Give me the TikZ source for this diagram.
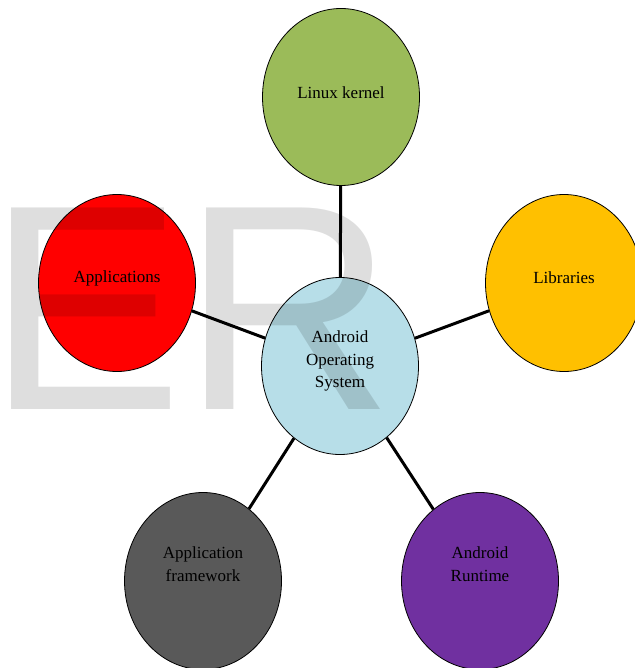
\documentclass[tikz,border=0pt]{standalone}
\usepackage{fontspec}
\setmainfont{Liberation Serif}
\newfontfamily\wmfont{Liberation Sans}
\usetikzlibrary{shapes.geometric}
\definecolor{kgreen}{HTML}{9BBB59}
\definecolor{lorange}{HTML}{FFC000}
\definecolor{ared}{HTML}{FF0000}
\definecolor{cblue}{HTML}{B7DEE8}
\definecolor{fgray}{HTML}{595959}
\definecolor{rpurple}{HTML}{7030A0}
\tikzset{
  bubble/.style={ellipse, draw=black, line width=0.8pt, minimum width=157pt, minimum height=177pt, inner sep=0pt},
  lbl/.style={align=center, inner sep=0pt, font=\fontsize{17}{22.5}\selectfont, text=black},
  link/.style={line width=3pt, black},
}
\begin{document}
\begin{tikzpicture}[x=1pt, y=-1pt]
\useasboundingbox (0,0) rectangle (634,668);
\fill[white] (0,0) rectangle (634,668);
\node[bubble, fill=cblue, label={[lbl, name=osl, yshift=5pt]center:Android\\Operating\\System}] (os) at (340,366) {};
\node[bubble, fill=kgreen, label={[lbl, name=kernell, yshift=4pt]center:Linux kernel}] (kernel) at (341,97) {};
\node[bubble, fill=ared, label={[lbl, name=appsl, yshift=5pt]center:Applications}] (apps) at (117,283) {};
\node[bubble, fill=lorange, label={[lbl, name=libsl, yshift=5pt]center:Libraries}] (libs) at (564,283) {};
\node[bubble, fill=fgray, label={[lbl, name=fwl, yshift=17pt]center:Application\\framework}] (fw) at (203,581) {};
\node[bubble, fill=rpurple, label={[lbl, name=rtl, yshift=17pt]center:Android\\Runtime}] (rt) at (480,581) {};
\draw[link] (kernel) -- (os);
\draw[link] (apps) -- (os);
\draw[link] (libs) -- (os);
\draw[link] (fw) -- (os);
\draw[link] (rt) -- (os);
\node[anchor=base west, inner sep=0pt, text=black, opacity=0.13, font=\wmfont\fontsize{293}{293}\selectfont] (wm) at (-13,409) {ER};
\end{tikzpicture}
\end{document}
